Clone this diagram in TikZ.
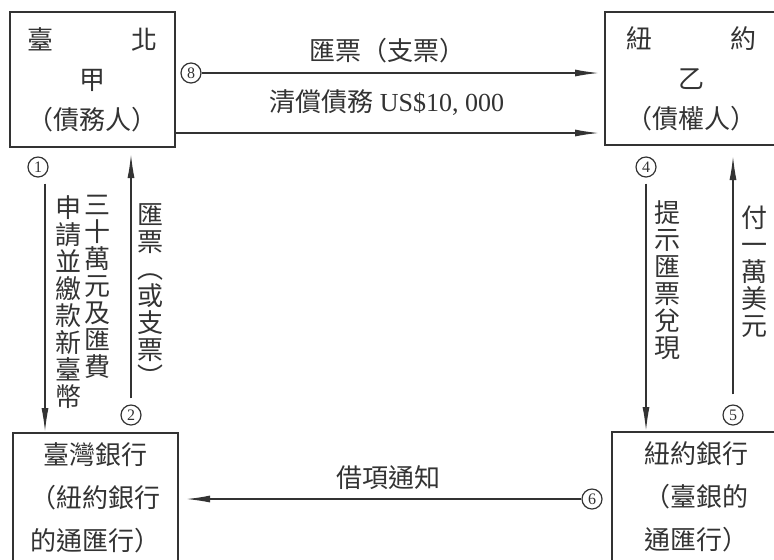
\documentclass[tikz,border=0pt]{standalone}
\usepackage{fontspec}
\setmainfont{Noto Sans CJK TC}
\newfontfamily\latinfont{Liberation Serif}
\usetikzlibrary{arrows.meta}

\begin{document}
\begin{tikzpicture}[x=0.5pt, y=-0.5pt, every node/.style={text=black!80},
	box/.style={rectangle, draw=black!80, line width=1pt, align=center, font=\fontsize{13}{20}\selectfont},
	vert/.style={align=center, inner sep=0pt, anchor=north, font=\fontsize{13}{13.5}\selectfont},
	num/.style={circle, draw=black!80, line width=0.6pt, inner sep=0pt, minimum size=10pt, font=\latinfont\fontsize{8}{8}\selectfont},
	lbl/.style={font=\fontsize{13}{15}\selectfont},
	arr/.style={draw=black!80, line width=0.7pt, -{Latex[length=12pt,width=3.5pt]}}]
	\useasboundingbox (0,0) rectangle (774,559);

	% nodes
	\node[box, minimum width=82.5pt, minimum height=67.5pt] (jia) at (92.5,79.5) {臺\hspace{3em}北\\甲\\（債務人）}; %
	\node[box, minimum width=86.5pt, minimum height=66.5pt] (yi) at (691.5,78.5) {紐\hspace{3em}約\\乙\\（債權人）}; %
	\node[box, align=left, minimum width=82.5pt, minimum height=64.5pt, font=\fontsize{13}{21.5}\selectfont] (twbank) at (95.5,497.5) {\hspace{0.5em}臺灣銀行\\（紐約銀行\\的通匯行）}; %
	\node[box, align=left, minimum width=84pt, minimum height=65pt, font=\fontsize{13}{21.5}\selectfont] (nybank) at (696,497) {紐約銀行\\（臺銀的\\通匯行）}; %

	% step numbers
	\node[num] (c1) at (38,167) {1}; %
	\node[num] (c2) at (131,415) {2}; %
	\node[num] (c4) at (646,167) {4}; %
	\node[num] (c5) at (733,415) {5}; %
	\node[num] (c6) at (592,499) {6}; %
	\node[num] (c8) at (191,73) {8}; %

	% texts
	\node[vert] (apply) at (68,195) {申\\請\\並\\繳\\款\\新\\臺\\幣}; %
	\node[vert] (amount) at (97,195) {三\\十\\萬\\元\\及\\匯\\費}; %
	\node[vert] (draft) at (150,203) {匯\\票\\︵\\或\\支\\票\\︶}; %
	\node[vert] (present) at (667,200) {提\\示\\匯\\票\\兌\\現}; %
	\node[vert] (pay) at (754,205) {付\\一\\萬\\美\\元}; %
	\node[lbl] (lcheck) at (387,51) {匯票（支票）}; %
	\node[lbl] (lsettle) at (387,103) {清償債務 {\latinfont US\$10, 000}}; %
	\node[lbl] (ldebit) at (388,478) {借項通知}; %

	% edges
	\draw[arr, shorten >=2.5pt] (c8) -- (c8 -| yi.west);
	\draw[arr, shorten >=2.5pt] ([yshift=7.5pt]jia.south east) -- ([yshift=7.5pt]jia.south east -| yi.west);
	\draw[arr, shorten <=3pt] ([xshift=3.5pt]c1.south) -- ([xshift=3.5pt]c1.south |- twbank.north);
	\draw[arr, shorten <=3pt, shorten >=3pt] (c2.north) -- (c2.north |- jia.south);
	\draw[arr, shorten <=3pt] (c4.south) -- (c4.south |- nybank.north);
	\draw[arr, shorten <=5pt, shorten >=5pt] (c5.north) -- (c5.north |- yi.south);
	\draw[arr, shorten >=3.5pt] (c6.west) -- (c6.west -| twbank.east);
\end{tikzpicture}
\end{document}
